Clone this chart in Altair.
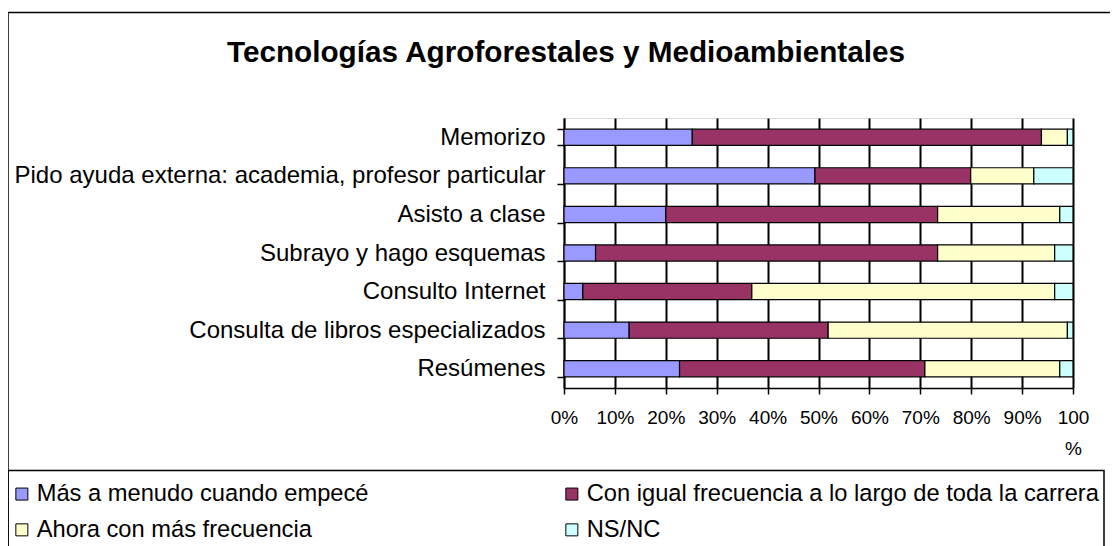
import altair as alt
import pandas as pd

categorias = [
    "Memorizo",
    "Pido ayuda externa: academia, profesor particular",
    "Asisto a clase",
    "Subrayo y hago esquemas",
    "Consulto Internet",
    "Consulta de libros especializados",
    "Resúmenes",
]
series = [
    "Más a menudo cuando empecé",
    "Con igual frecuencia a lo largo de toda la carrera",
    "Ahora con más frecuencia",
    "NS/NC",
]
mas_menudo = [25.2, 49.3, 20.0, 6.2, 3.7, 12.8, 22.7]
igual = [68.6, 30.6, 53.4, 67.2, 33.2, 39.1, 48.2]
ahora = [5.1, 12.4, 24.0, 23.0, 59.5, 47.0, 26.5]
nsnc = [1.1, 7.7, 2.6, 3.6, 3.6, 1.1, 2.6]
colores = ["#9999FF", "#993366", "#FFFFCC", "#CCFFFF"]
titulo = "Tecnologías Agroforestales y Medioambientales"
ticks_x = [0, 0.1, 0.2, 0.3, 0.4, 0.5, 0.6, 0.7, 0.8, 0.9, 1.0]

valores = [mas_menudo, igual, ahora, nsnc]
rows = []
for si, (s, vals) in enumerate(zip(series, valores)):
    for c, v in zip(categorias, vals):
        rows.append({"categoria": c, "serie": s, "valor": v, "orden": si})
df = pd.DataFrame(rows)
dummy = pd.DataFrame({"k": [0]})

FONT = "Liberation Sans"

bars = alt.Chart(df).mark_bar(stroke="black", strokeWidth=1.2).encode(
    y=alt.Y(
        "categoria:N",
        sort=categorias,
        title=None,
        scale=alt.Scale(paddingInner=0.58, paddingOuter=0.29),
        axis=alt.Axis(
            tickBand="extent",
            tickSize=7,
            tickColor="black",
            tickWidth=1.5,
            domainColor="black",
            domainWidth=1.5,
            labelColor="black",
            labelFont=FONT,
            labelFontSize=24,
            labelPadding=12,
            labelLimit=700,
            grid=False,
        ),
    ),
    x=alt.X(
        "valor:Q",
        stack="normalize",
        title=None,
        scale=alt.Scale(domain=[0, 1], nice=False),
        axis=alt.Axis(
            values=ticks_x,
            format=".0%",
            labelExpr="datum.value >= 0.999 ? ['100', '%'] : datum.label",
            labelLineHeight=31,
            grid=True,
            gridColor="#000000",
            gridWidth=2,
            gridOpacity=1,
            domainColor="black",
            domainWidth=1.5,
            tickColor="black",
            tickWidth=1.5,
            tickSize=6,
            labelColor="black",
            labelFont=FONT,
            labelFontSize=19,
            labelPadding=14,
            labelFlush=False,
        ),
    ),
    color=alt.Color(
        "serie:N",
        sort=series,
        scale=alt.Scale(domain=series, range=colores),
        legend=alt.Legend(
            title=None,
            orient="none",
            legendX=-554,
            legendY=364,
            direction="horizontal",
            columns=2,
            columnPadding=191,
            rowPadding=11,
            padding=0,
            symbolType="square",
            symbolSize=144,
            symbolStrokeColor="black",
            symbolStrokeWidth=1,
            symbolOpacity=1,
            labelFont=FONT,
            labelFontSize=23.7,
            labelColor="black",
            labelOffset=3,
            labelLimit=700,
        ),
    ),
    order=alt.Order("orden:Q", sort="ascending"),
).properties(
    width=509,
    height=270,
)

title_mark = alt.Chart(dummy).mark_text(
    text=titulo, font=FONT, fontSize=29.7, fontWeight="bold",
    align="center", baseline="alphabetic", color="black",
).encode(x=alt.value(2), y=alt.value(-56))

outer = alt.Chart(dummy).mark_rect(fill="transparent", stroke="black", strokeWidth=1.5).encode(
    x=alt.value(-556), x2=alt.value(600), y=alt.value(-105.5), y2=alt.value(600)
)
legend_box = alt.Chart(dummy).mark_rect(fill="transparent", stroke="black", strokeWidth=1.5).encode(
    x=alt.value(-556), x2=alt.value(540), y=alt.value(352.5), y2=alt.value(600)
)

chart = alt.layer(bars, outer, legend_box, title_mark).properties(
    width=509,
    height=270,
    autosize=alt.AutoSizeParams(type="none"),
    padding={"left": 556, "top": 110, "right": 37, "bottom": 158},
).configure_view(stroke="#808080", strokeWidth=1.5, fill="white").configure(background="white")

chart.save("out.html", embed_options={"renderer": "svg", "actions": False})
